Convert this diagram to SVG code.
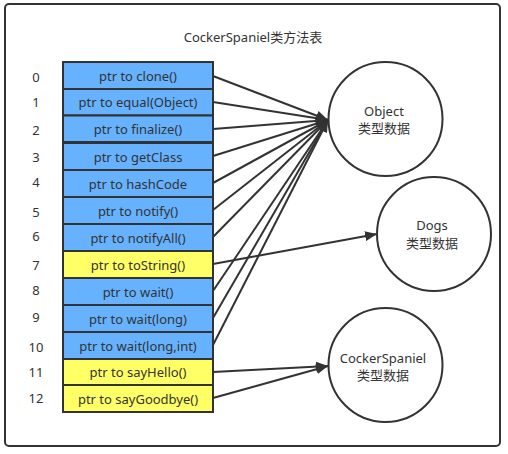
<svg xmlns="http://www.w3.org/2000/svg" width="508" height="454" viewBox="0 0 508 454">
<style>
.frame{fill:#fff;stroke:#333;stroke-width:2}
.row{stroke:#333;stroke-width:2}
.b{fill:#66B2FF}
.y{fill:#FFFF66}
.t{font-family:"Noto Sans","Noto Sans CJK SC",sans-serif;font-size:13px;fill:#333;text-anchor:middle;dominant-baseline:central}
.idx{font-family:"Noto Sans","Noto Sans CJK SC",sans-serif;font-size:13px;fill:#333;text-anchor:middle;dominant-baseline:central}
.c{fill:#fff;stroke:#333;stroke-width:2}
.e{stroke:#333;stroke-width:2;fill:none;marker-end:url(#ah)}
</style>
<defs>
<marker id="ah" markerUnits="userSpaceOnUse" markerWidth="14" markerHeight="10" refX="12" refY="5" orient="auto">
<path d="M0,0 L12,5 L0,10 z" fill="#333"/>
</marker>
</defs>
<rect class="frame" x="5" y="4" width="495" height="442" rx="4"/>
<text class="t" x="253" y="37">CockerSpaniel类方法表</text>
<g id="connectors">
<line class="e" x1="213" y1="76" x2="328" y2="120"/>
<line class="e" x1="213" y1="102" x2="328" y2="120"/>
<line class="e" x1="213" y1="129" x2="328" y2="120"/>
<line class="e" x1="213" y1="156" x2="328" y2="120"/>
<line class="e" x1="213" y1="183" x2="328" y2="120"/>
<line class="e" x1="213" y1="210" x2="328" y2="120"/>
<line class="e" x1="213" y1="237" x2="328" y2="120"/>
<line class="e" x1="213" y1="291" x2="328" y2="120"/>
<line class="e" x1="213" y1="318" x2="328" y2="120"/>
<line class="e" x1="213" y1="345" x2="328" y2="120"/>
<line class="e" x1="213" y1="264" x2="377" y2="234"/>
<line class="e" x1="213" y1="372" x2="328" y2="366"/>
<line class="e" x1="213" y1="398" x2="328" y2="366"/>
</g>
<g id="table">
<g id="row0"><rect class="row b" x="63" y="62" width="150" height="27"/><text class="t" x="138" y="75.5">ptr to clone()</text><text class="idx" x="36" y="76.5">0</text></g>
<g id="row1"><rect class="row b" x="63" y="89" width="150" height="26.5"/><text class="t" x="138" y="102">ptr to equal(Object)</text><text class="idx" x="36" y="101.5">1</text></g>
<g id="row2"><rect class="row b" x="63" y="115.5" width="150" height="26.5"/><text class="t" x="138" y="128.5">ptr to finalize()</text><text class="idx" x="36" y="130">2</text></g>
<g id="row3"><rect class="row b" x="63" y="143" width="150" height="27"/><text class="t" x="138" y="156.5">ptr to getClass</text><text class="idx" x="36" y="157">3</text></g>
<g id="row4"><rect class="row b" x="63" y="170" width="150" height="27"/><text class="t" x="138" y="183.5">ptr to hashCode</text><text class="idx" x="36" y="182">4</text></g>
<g id="row5"><rect class="row b" x="63" y="197" width="150" height="27"/><text class="t" x="138" y="210.5">ptr to notify()</text><text class="idx" x="36" y="212">5</text></g>
<g id="row6"><rect class="row b" x="63" y="224" width="150" height="27"/><text class="t" x="138" y="237.5">ptr to notifyAll()</text><text class="idx" x="36" y="236">6</text></g>
<g id="row7"><rect class="row y" x="63" y="251" width="150" height="27"/><text class="t" x="138" y="264.5">ptr to toString()</text><text class="idx" x="36" y="265">7</text></g>
<g id="row8"><rect class="row b" x="63" y="278" width="150" height="27"/><text class="t" x="138" y="291.5">ptr to wait()</text><text class="idx" x="36" y="290">8</text></g>
<g id="row9"><rect class="row b" x="63" y="305" width="150" height="27"/><text class="t" x="138" y="318.5">ptr to wait(long)</text><text class="idx" x="36" y="317">9</text></g>
<g id="row10"><rect class="row b" x="63" y="332" width="150" height="27"/><text class="t" x="138" y="345.5">ptr to wait(long,int)</text><text class="idx" x="36" y="347">10</text></g>
<g id="row11"><rect class="row y" x="63" y="359" width="150" height="26"/><text class="t" x="138" y="372">ptr to sayHello()</text><text class="idx" x="36" y="372">11</text></g>
<g id="row12"><rect class="row y" x="63" y="385" width="150" height="27"/><text class="t" x="138" y="398.5">ptr to sayGoodbye()</text><text class="idx" x="36" y="398">12</text></g>
</g>
<g id="object"><circle class="c" cx="385.5" cy="119" r="57"/><text class="t" x="384" y="110.5">Object</text><text class="t" x="384" y="128">类型数据</text></g>
<g id="dogs"><circle class="c" cx="434" cy="234" r="57"/><text class="t" x="432" y="225">Dogs</text><text class="t" x="432" y="242.5">类型数据</text></g>
<g id="cocker"><circle class="c" cx="385.5" cy="365" r="57"/><text class="t" x="383" y="357.5">CockerSpaniel</text><text class="t" x="383" y="375">类型数据</text></g>
</svg>
